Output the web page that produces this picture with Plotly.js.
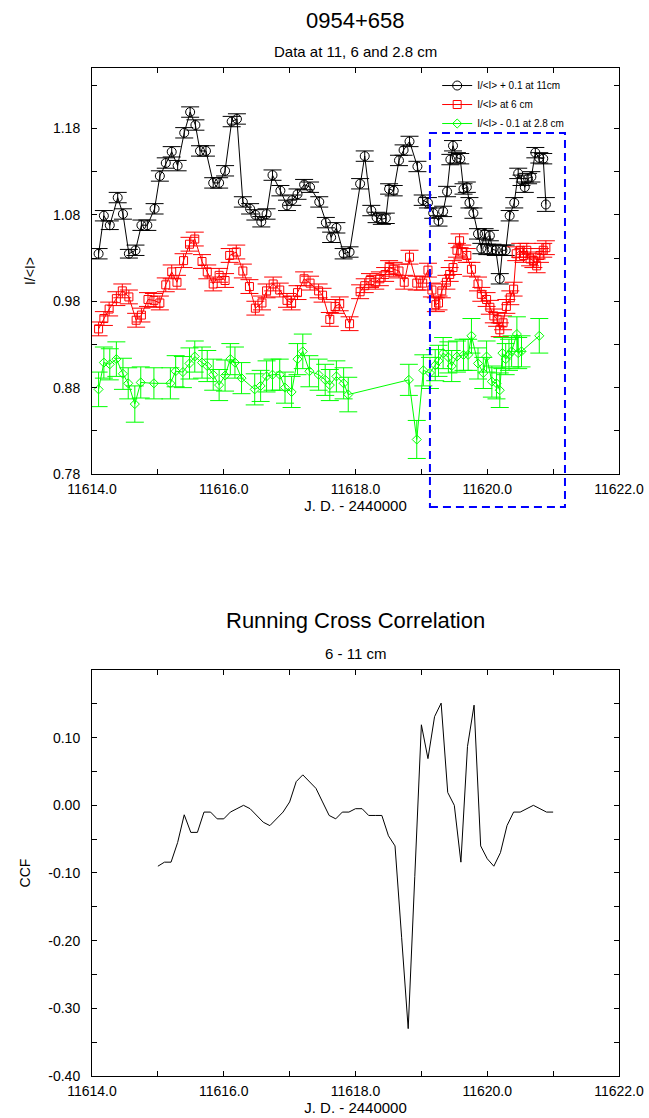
<!DOCTYPE html>
<html>
<head>
<meta charset="utf-8">
<script src="https://cdn.plot.ly/plotly-3.0.1.min.js"></script>
<style>html,body{margin:0;padding:0;background:#fff;}#chart{width:649px;height:1118px;}</style>
</head>
<body>
<div id="chart"></div>
<script>
// ---- 11 cm (I/<I> + 0.1) ----
var jd11 = [11614.10,11614.18,11614.27,11614.39,11614.47,11614.56,11614.66,11614.75,11614.84,11614.95,
  11615.03,11615.12,11615.21,11615.30,11615.40,11615.49,11615.57,11615.64,11615.73,11615.84,
  11615.93,11616.02,11616.12,11616.20,11616.29,11616.40,11616.48,11616.57,11616.65,11616.74,
  11616.86,11616.96,11617.04,11617.12,11617.22,11617.31,11617.45,11617.55,11617.63,11617.71,
  11617.82,11617.91,11618.07,11618.14,11618.24,11618.32,11618.40,11618.46,11618.51,11618.58,
  11618.66,11618.73,11618.82,11618.94,11619.02,11619.10,11619.18,11619.26,11619.33,11619.39,
  11619.44,11619.48,11619.54,11619.59,11619.64,11619.69,11619.73,11619.79,11619.86,11619.91,
  11619.96,11620.00,11620.04,11620.08,11620.13,11620.19,11620.23,11620.28,11620.34,11620.41,
  11620.47,11620.52,11620.57,11620.62,11620.67,11620.73,11620.79,11620.85,11620.89];
var val11 = [1.035,1.079,1.068,1.100,1.081,1.035,1.039,1.068,1.068,1.087,
  1.125,1.140,1.153,1.137,1.175,1.199,1.184,1.154,1.154,1.117,
  1.117,1.131,1.188,1.191,1.095,1.087,1.080,1.072,1.081,1.126,
  1.108,1.091,1.097,1.104,1.115,1.112,1.095,1.071,1.054,1.065,
  1.035,1.037,1.116,1.148,1.085,1.077,1.075,1.076,1.110,1.108,
  1.143,1.155,1.165,1.136,1.097,1.094,1.082,1.073,1.084,1.107,
  1.144,1.160,1.146,1.145,1.110,1.112,1.094,1.082,1.058,1.041,
  1.058,1.040,1.056,1.040,1.039,1.006,1.039,1.039,1.079,1.094,
  1.128,1.120,1.112,1.122,1.124,1.152,1.146,1.145,1.092];
var err11 = [0.006,0.006,0.005,0.006,0.006,0.005,0.006,0.006,0.006,0.006,
  0.006,0.006,0.006,0.006,0.006,0.006,0.006,0.006,0.006,0.006,
  0.006,0.006,0.006,0.006,0.006,0.006,0.006,0.006,0.006,0.006,
  0.006,0.006,0.006,0.006,0.006,0.006,0.006,0.006,0.006,0.006,
  0.006,0.006,0.006,0.006,0.006,0.006,0.006,0.006,0.006,0.006,
  0.006,0.006,0.006,0.006,0.006,0.006,0.006,0.006,0.006,0.006,
  0.006,0.006,0.006,0.006,0.006,0.006,0.006,0.006,0.006,0.006,
  0.006,0.006,0.006,0.006,0.006,0.006,0.006,0.006,0.006,0.006,
  0.006,0.006,0.006,0.006,0.006,0.006,0.006,0.006,0.008];

// ---- 6 cm ----
var jd6 = [11614.10,11614.18,11614.26,11614.37,11614.46,11614.56,11614.67,11614.75,11614.85,11614.94,
  11615.03,11615.12,11615.21,11615.29,11615.39,11615.48,11615.56,11615.67,11615.75,11615.84,
  11615.93,11616.02,11616.09,11616.19,11616.29,11616.39,11616.48,11616.58,11616.65,11616.75,
  11616.85,11616.96,11617.03,11617.12,11617.22,11617.31,11617.44,11617.50,11617.61,11617.69,
  11617.76,11617.91,11618.07,11618.14,11618.22,11618.30,11618.37,11618.45,11618.51,11618.58,
  11618.66,11618.74,11618.82,11618.93,11619.02,11619.10,11619.16,11619.22,11619.26,11619.31,
  11619.38,11619.43,11619.48,11619.54,11619.58,11619.62,11619.69,11619.76,11619.86,11619.91,
  11619.99,11620.04,11620.10,11620.15,11620.19,11620.24,11620.29,11620.35,11620.40,11620.44,
  11620.50,11620.55,11620.60,11620.65,11620.70,11620.75,11620.80,11620.85,11620.89];
var val6 = [0.948,0.960,0.971,0.983,0.992,0.985,0.958,0.964,0.982,0.981,
  0.978,0.999,1.014,1.002,1.027,1.046,1.052,1.026,1.014,1.000,
  1.010,1.004,1.033,1.037,1.015,0.997,0.972,0.978,0.992,1.000,
  0.993,0.981,0.978,0.990,1.006,1.001,0.992,0.987,0.959,0.974,
  0.977,0.954,0.991,0.998,1.004,1.002,1.006,1.011,1.019,1.017,
  1.015,1.002,1.031,1.001,1.001,1.016,0.993,0.976,0.978,0.992,
  1.002,1.011,1.019,1.039,1.050,1.037,1.033,1.017,1.000,0.988,
  0.982,0.973,0.963,0.959,0.947,0.955,0.974,0.984,0.994,1.035,
  1.039,1.033,1.039,1.029,1.027,1.021,1.033,1.039,1.042];
var err6 = [0.008,0.008,0.008,0.008,0.008,0.008,0.008,0.008,0.008,0.008,
  0.008,0.008,0.008,0.008,0.008,0.008,0.008,0.008,0.008,0.008,
  0.008,0.008,0.008,0.008,0.008,0.008,0.008,0.008,0.008,0.008,
  0.008,0.008,0.008,0.008,0.008,0.008,0.008,0.008,0.008,0.008,
  0.008,0.008,0.008,0.008,0.008,0.008,0.008,0.008,0.008,0.008,
  0.008,0.008,0.008,0.008,0.008,0.008,0.008,0.008,0.008,0.008,
  0.008,0.008,0.008,0.008,0.008,0.008,0.008,0.008,0.008,0.008,
  0.008,0.008,0.008,0.008,0.008,0.008,0.008,0.008,0.008,0.008,
  0.008,0.008,0.008,0.008,0.008,0.008,0.008,0.008,0.008];

// ---- 2.8 cm (I/<I> - 0.1) ----
var jd28 = [11614.10,11614.18,11614.27,11614.37,11614.47,11614.55,11614.65,11614.74,11614.94,11615.19,
  11615.27,11615.38,11615.48,11615.56,11615.67,11615.75,11615.84,11615.93,11616.02,11616.10,
  11616.17,11616.27,11616.47,11616.56,11616.65,11616.74,11616.85,11616.93,11617.03,11617.12,
  11617.20,11617.30,11617.44,11617.54,11617.61,11617.71,11617.82,11617.89,11618.81,11618.93,
  11619.03,11619.13,11619.21,11619.26,11619.33,11619.41,11619.46,11619.54,11619.64,11619.71,
  11619.76,11619.86,11619.94,11619.99,11620.07,11620.14,11620.19,11620.23,11620.28,11620.33,
  11620.37,11620.45,11620.47,11620.52,11620.79];
var val28 = [0.878,0.909,0.907,0.913,0.896,0.885,0.861,0.886,0.885,0.885,
  0.899,0.898,0.908,0.916,0.909,0.905,0.895,0.883,0.894,0.913,
  0.909,0.891,0.878,0.882,0.893,0.895,0.895,0.880,0.875,0.913,
  0.922,0.899,0.895,0.889,0.883,0.893,0.885,0.872,0.889,0.820,
  0.900,0.897,0.906,0.911,0.920,0.915,0.905,0.916,0.918,0.918,
  0.940,0.908,0.897,0.916,0.887,0.885,0.877,0.920,0.913,0.918,
  0.922,0.942,0.920,0.922,0.940];
var err28 = [0.020,0.018,0.018,0.020,0.018,0.018,0.021,0.018,0.018,0.018,
  0.018,0.018,0.018,0.018,0.018,0.018,0.018,0.018,0.018,0.018,
  0.018,0.018,0.018,0.018,0.018,0.018,0.018,0.018,0.018,0.018,
  0.020,0.018,0.018,0.018,0.018,0.018,0.018,0.020,0.018,0.022,
  0.018,0.018,0.018,0.018,0.018,0.018,0.018,0.018,0.018,0.018,
  0.020,0.018,0.018,0.018,0.018,0.018,0.020,0.018,0.018,0.018,
  0.018,0.020,0.018,0.018,0.020];

// ---- running cross correlation 6 - 11 cm ----
var ccfJD = [11615.0,11615.1,11615.2,11615.3,11615.4,11615.5,11615.6,11615.7,11615.8,11615.9,
  11616.0,11616.1,11616.2,11616.3,11616.4,11616.5,11616.6,11616.7,11616.8,11616.9,
  11617.0,11617.1,11617.2,11617.3,11617.4,11617.5,11617.6,11617.7,11617.8,11617.9,
  11618.0,11618.1,11618.2,11618.3,11618.4,11618.5,11618.6,11618.7,11618.8,11618.9,
  11619.0,11619.1,11619.2,11619.3,11619.4,11619.5,11619.6,11619.7,11619.8,11619.9,
  11620.0,11620.1,11620.2,11620.3,11620.4,11620.5,11620.6,11620.7,11620.8,11620.9,11621.0];
var ccfVal = [-0.090,-0.084,-0.084,-0.055,-0.014,-0.040,-0.040,-0.010,-0.010,-0.020,
  -0.020,-0.010,-0.005,0.000,-0.005,-0.015,-0.025,-0.030,-0.020,-0.010,
  0.005,0.035,0.045,0.035,0.025,0.005,-0.015,-0.020,-0.010,-0.010,
  -0.005,-0.005,-0.015,-0.015,-0.015,-0.045,-0.060,-0.195,-0.330,-0.105,
  0.119,0.069,0.131,0.151,0.019,0.000,-0.084,0.087,0.148,-0.060,
  -0.079,-0.090,-0.070,-0.030,-0.010,-0.010,-0.005,0.000,-0.005,-0.010,-0.010];

// tick labels
var fluxTicks = [0.78, 0.88, 0.98, 1.08, 1.18];
var ccfTicks = [-0.40, -0.30, -0.20, -0.10, 0.00, 0.10];

var names = ['I/&lt;I&gt; + 0.1 at 11cm', 'I/&lt;I&gt; at 6 cm', 'I/&lt;I&gt; - 0.1 at 2.8 cm'];

var FONT = 'Liberation Sans, Arial, Helvetica, sans-serif';

function errTrace(x, y, e, name, color, symbol, size) {
  return {
    x: x, y: y, name: name, type: 'scatter', mode: 'lines+markers',
    xaxis: 'x', yaxis: 'y',
    line: {color: color, width: 1},
    marker: {symbol: symbol, size: size, color: color, line: {color: color, width: 1}},
    error_y: {type: 'data', array: e, visible: true, color: color, thickness: 1, width: 9}
  };
}

var traces = [
  errTrace(jd11, val11, err11, names[0], '#000000', 'circle-open', 9),
  errTrace(jd6, val6, err6, names[1], '#ff0000', 'square-open', 8),
  errTrace(jd28, val28, err28, names[2], '#00ff00', 'diamond-open', 7),
  {x: ccfJD, y: ccfVal, type: 'scatter', mode: 'lines', xaxis: 'x2', yaxis: 'y2',
   line: {color: '#000000', width: 1}, showlegend: false, name: 'CCF'}
];

function xax(anchor) {
  return {
    anchor: anchor, domain: [0, 1], range: [11614, 11622], tick0: 11614, dtick: 2,
    tickformat: '.1f', ticks: 'inside', ticklen: 5, tickcolor: '#000',
    minor: {dtick: 1, tick0: 11614, ticks: 'inside', ticklen: 5, tickcolor: '#000'},
    showline: true, linecolor: '#000', linewidth: 1, mirror: 'ticks',
    showgrid: false, zeroline: false, ticklabelstandoff: 2,
    tickfont: {family: FONT, size: 14, color: '#000'},
    title: {text: 'J. D. - 2440000', font: {family: FONT, size: 15, color: '#000'}, standoff: 4}
  };
}

function yax(domain, anchor, range, tickv, minor0, title) {
  return {
    domain: domain, anchor: anchor, range: range,
    tickmode: 'array', tickvals: tickv, ticktext: tickv.map(function (v) { return v.toFixed(2); }),
    ticks: 'inside', ticklen: 5, tickcolor: '#000',
    minor: {dtick: 0.05, tick0: minor0, ticks: 'inside', ticklen: 5, tickcolor: '#000'},
    showline: true, linecolor: '#000', linewidth: 1, mirror: 'ticks',
    showgrid: false, zeroline: false, ticklabelstandoff: 8,
    tickfont: {family: FONT, size: 14, color: '#000'},
    title: {text: title, font: {family: FONT, size: 14, color: '#000'}, standoff: 14}
  };
}

var layout = {
  width: 649, height: 1118,
  margin: {l: 92, r: 30, t: 68, b: 42},
  paper_bgcolor: '#fff', plot_bgcolor: '#fff',
  font: {family: FONT, color: '#000'},
  showlegend: true,
  legend: {x: 0.655, y: 0.997, xanchor: 'left', yanchor: 'top',
    bgcolor: 'rgba(0,0,0,0)', borderwidth: 0, font: {family: FONT, size: 10, color: '#000'},
    tracegroupgap: 0},
  xaxis: xax('y'),
  xaxis2: xax('y2'),
  yaxis: yax([0.5972, 1], 'x', [0.78, 1.25], fluxTicks, 0.78, 'I/&lt;I&gt;'),
  yaxis2: yax([0, 0.4028], 'x2', [-0.4, 0.2], ccfTicks, -0.4, 'CCF'),
  shapes: [{
    type: 'rect', xref: 'x', yref: 'paper', x0: 11619.13, x1: 11621.18, y0: 0.5645, y1: 0.9355,
    line: {color: '#0000ff', width: 2, dash: '8px,5px'}, fillcolor: 'rgba(0,0,0,0)'
  }],
  annotations: [
    {text: '0954+658', xref: 'paper', yref: 'paper', x: 0.5, y: 1.0476, showarrow: false,
     xanchor: 'center', yanchor: 'middle', font: {family: FONT, size: 22, color: '#000'}},
    {text: 'Data at 11, 6 and 2.8 cm', xref: 'paper', yref: 'paper', x: 0.5, y: 1.0166, showarrow: false,
     xanchor: 'center', yanchor: 'middle', font: {family: FONT, size: 15, color: '#000'}},
    {text: 'Running Cross Correlation', xref: 'paper', yref: 'paper', x: 0.5, y: 0.4514, showarrow: false,
     xanchor: 'center', yanchor: 'middle', font: {family: FONT, size: 22, color: '#000'}},
    {text: '6 - 11 cm', xref: 'paper', yref: 'paper', x: 0.5, y: 0.4196, showarrow: false,
     xanchor: 'center', yanchor: 'middle', font: {family: FONT, size: 15, color: '#000'}}
  ]
};

Plotly.newPlot('chart', traces, layout, {displayModeBar: false, staticPlot: true});
</script>
</body>
</html>
